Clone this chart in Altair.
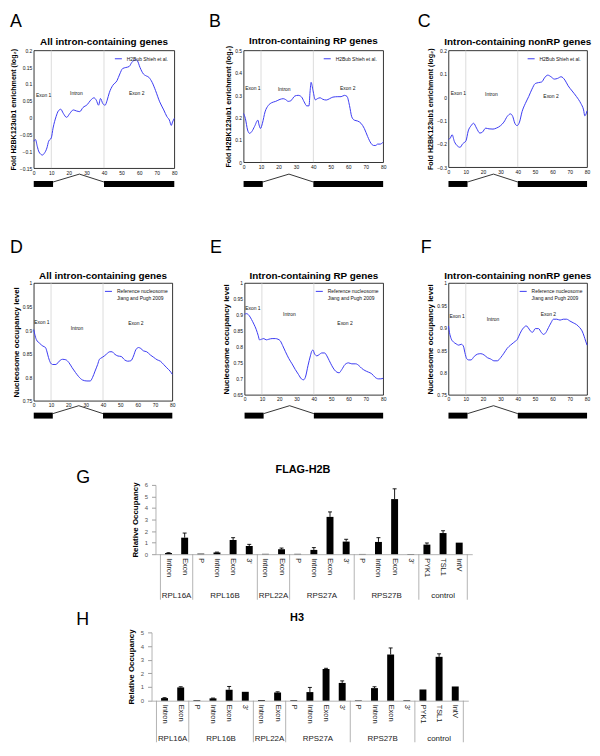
import altair as alt
import pandas as pd

FONT = "Liberation Sans"
BLUE = "#3b3bf2"

# ---------------- line panels (A-F) ----------------
X_TICKS = [0, 10, 20, 30, 40, 50, 60, 70, 80]
REGION_BOUNDS = [10, 40]
EXON_START = [0, 40]
EXON_END = [11, 80]
INTRON_FROM = 11
INTRON_PEAK = 26
INTRON_TO = 40
ANN_TEXT = ["Exon 1", "Intron", "Exon 2"]

SERIES_TOP = "H2Bub  Shieh et al."
SERIES_BOTTOM = "Reference nucleosome|Jiang and Pugh 2009"
YTITLE_TOP = "Fold H2BK123ub1 enrichment (log\u2082)"
YTITLE_BOTTOM = "Nucleosome occupancy level"

A_X = [0, 1, 2, 3, 5, 6, 7.5, 8.5, 10, 11, 12.7, 14, 15.4, 16.8, 18.7, 20.6, 22.5, 24.3, 26.2, 28,
       30.5, 32.4, 34.3, 35.6, 36.9, 38, 39.3, 40.6, 41.8, 43, 45, 47.4, 49, 50.6, 52.4, 54.3, 55.8, 58, 59, 60.5,
       62.4, 63.7, 65.5, 67.4, 69.3, 71.7, 74, 75.8, 77.2, 78.3, 79, 80]
A_Y = [-0.07, -0.065, -0.085, -0.102, -0.111, -0.106, -0.09, -0.07, -0.06, -0.031, 0.003, 0.02, 0.025, 0.013, 0.001,
       0.013, 0.023, 0.02, 0.018, 0.03, 0.039, 0.052, 0.059, 0.052, 0.037, 0.057, 0.042, 0.037, 0.052, 0.074,
       0.096, 0.11, 0.13, 0.146, 0.149, 0.152, 0.164, 0.172, 0.169, 0.149, 0.13, 0.125, 0.12, 0.105, 0.081,
       0.047, 0.023, 0.003, -0.007, -0.023, -0.013, -0.002]

B_X = [0, 1, 2.3, 3.4, 4.7, 6.3, 8.2, 8.9, 9.7, 10.8, 12.3, 14.2, 16.1, 18.4, 20.9, 22.7, 24.1, 25.6, 27.1, 29.4,
       31.3, 33.2, 34.7, 36.2, 37.5, 38.1, 38.7, 39.8, 41.1, 42.3, 43.8, 45.5, 47.4, 49.3, 51.2, 54, 55.9, 57.8,
       59.3, 60.7, 62, 63.5, 65.4, 67.3, 69.2, 71.1, 73, 74.5, 75.8, 76.8, 78.3, 80]
B_Y = [0.218, 0.196, 0.144, 0.129, 0.137, 0.16, 0.188, 0.166, 0.151, 0.174, 0.225, 0.254, 0.266, 0.272, 0.281,
       0.284, 0.28, 0.272, 0.275, 0.296, 0.299, 0.292, 0.27, 0.252, 0.252, 0.314, 0.357, 0.32, 0.279, 0.284,
       0.288, 0.281, 0.278, 0.284, 0.291, 0.293, 0.293, 0.299, 0.294, 0.254, 0.203, 0.188, 0.184, 0.174, 0.151,
       0.115, 0.085, 0.075, 0.075, 0.081, 0.081, 0.09]

C_X = [0, 1.1, 2.1, 3.4, 5, 6.7, 8.2, 10.1, 11.4, 13, 14.5, 16.2, 18.1, 19.6, 21.5, 23.4, 25.7, 27.6, 30.1, 32,
       33.9, 35.8, 37.1, 38.3, 39.6, 41, 42.5, 44.4, 46.3, 48.2, 50.1, 52, 53.9, 55.4, 57.3, 59.2, 61.1, 63, 65,
       67.2, 69.1, 71.4, 73.9, 76.4, 78, 78.7, 79.2, 80]
C_Y = [-0.182, -0.175, -0.161, -0.19, -0.208, -0.215, -0.2, -0.187, -0.145, -0.123, -0.112, -0.133, -0.154, -0.15,
       -0.133, -0.136, -0.137, -0.133, -0.122, -0.107, -0.083, -0.072, -0.083, -0.112, -0.122, -0.107, -0.062,
       -0.027, 0.002, 0.034, 0.058, 0.062, 0.065, 0.082, 0.094, 0.087, 0.077, 0.08, 0.087, 0.073, 0.048, 0.026,
       0.002, -0.027, -0.055, -0.08, -0.076, -0.059]

D_X = [0, 0.6, 1.5, 3.4, 5.3, 6.8, 7.5, 8.5, 9.6, 10.9, 12.8, 14.7, 16.6, 18.5, 20.3, 22.2, 24.1, 26, 28.2, 30.7,
       32.6, 33.9, 35.4, 36.9, 37.9, 38.6, 39.5, 40.7, 42, 43.9, 45.2, 46.7, 48.6, 50.5, 52.4, 54.2, 56.1, 57.6,
       58.9, 60.5, 61.8, 63.3, 65.2, 67.4, 69.3, 71.2, 73.1, 75, 76.8, 78.7, 80]
D_Y = [0.901, 0.891, 0.88, 0.872, 0.866, 0.863, 0.856, 0.842, 0.831, 0.827, 0.827, 0.834, 0.838, 0.837, 0.831,
       0.82, 0.81, 0.801, 0.794, 0.792, 0.792, 0.799, 0.813, 0.827, 0.838, 0.84, 0.842, 0.845, 0.849, 0.854,
       0.854, 0.849, 0.845, 0.844, 0.837, 0.834, 0.835, 0.845, 0.858, 0.863, 0.861, 0.856, 0.854, 0.847, 0.842,
       0.837, 0.834, 0.827, 0.82, 0.813, 0.806]

E_X = [0, 1.1, 2.5, 4, 5.4, 6.7, 7.9, 8.6, 9.8, 11.1, 12.5, 14, 15.9, 17.8, 19.3, 20.6, 22, 23.6, 25.5, 27.4,
       29.3, 31.2, 32.8, 34.1, 35.1, 36.6, 38, 38.9, 39.5, 40.4, 41.8, 43.1, 44.6, 46.2, 47.5, 48.9, 50.4, 51.9,
       53.3, 54.6, 56.1, 58, 60, 61.9, 64.2, 66.1, 67.6, 69.5, 71.5, 73.4, 75.3, 77.2, 78.7, 80]
E_Y = [0.902, 0.904, 0.899, 0.886, 0.871, 0.855, 0.835, 0.822, 0.824, 0.826, 0.822, 0.824, 0.826, 0.826, 0.824,
       0.819, 0.804, 0.785, 0.764, 0.747, 0.729, 0.713, 0.7, 0.697, 0.705, 0.741, 0.772, 0.788, 0.79, 0.778,
       0.772, 0.776, 0.781, 0.781, 0.772, 0.757, 0.741, 0.728, 0.721, 0.719, 0.729, 0.745, 0.75, 0.747, 0.747,
       0.741, 0.733, 0.726, 0.721, 0.716, 0.705, 0.7, 0.7, 0.702]

F_X = [0, 0.6, 1.5, 2.9, 4.4, 5.9, 7.4, 8.6, 9.5, 10.5, 11.6, 13, 14.9, 16.8, 18.7, 20.6, 22.5, 24.4, 26.3, 28.2,
       30.1, 32, 33.9, 35.8, 37.7, 38.7, 39.6, 40.6, 42.1, 43.4, 44.8, 45.9, 47.2, 48.6, 50.1, 52, 53.5, 54.9,
       56.2, 57.7, 59.2, 60.6, 62.5, 64.4, 66.3, 68.2, 70.1, 72, 73.9, 75.8, 77.1, 78.3, 79.2, 80]
F_Y = [0.904, 0.889, 0.876, 0.868, 0.864, 0.861, 0.863, 0.859, 0.844, 0.831, 0.828, 0.828, 0.836, 0.841, 0.842,
       0.839, 0.833, 0.83, 0.826, 0.826, 0.833, 0.843, 0.854, 0.861, 0.867, 0.87, 0.873, 0.881, 0.893, 0.9,
       0.904, 0.901, 0.893, 0.89, 0.898, 0.898, 0.89, 0.885, 0.889, 0.9, 0.911, 0.919, 0.919, 0.917, 0.919,
       0.919, 0.915, 0.911, 0.907, 0.9, 0.893, 0.881, 0.87, 0.861]

A_TICKS = [-0.15, -0.1, -0.05, 0, 0.05, 0.1, 0.15, 0.2]
B_TICKS = [0, 0.1, 0.2, 0.3, 0.4, 0.5]
C_TICKS = [-0.3, -0.2, -0.1, 0, 0.1, 0.2]
D_TICKS = [0.75, 0.8, 0.85, 0.9, 0.95, 1]
E_TICKS = [0.65, 0.7, 0.75, 0.8, 0.85, 0.9, 0.95, 1]
F_TICKS = [0.75, 0.8, 0.85, 0.9, 0.95, 1]

A_ANN_X, A_ANN_Y = [5.6, 24.3, 58.6], [0.068, 0.074, 0.074]
B_ANN_X, B_ANN_Y = [5.3, 23.3, 59.7], [0.331, 0.328, 0.332]
C_ANN_X, C_ANN_Y = [5.7, 24.8, 59.2], [0.019, 0.014, 0.004]
D_ANN_X, D_ANN_Y = [4.7, 25.0, 59.0], [0.918, 0.904, 0.914]
E_ANN_X, E_ANN_Y = [4.8, 25.9, 58.0], [0.922, 0.902, 0.876]
F_ANN_X, F_ANN_Y = [5.0, 25.7, 57.7], [0.927, 0.919, 0.930]

# ---------------- bar panels (G, H) ----------------
CATS = ["Intron", "Exon", "P", "Intron", "Exon", "3'", "Intron", "Exon", "P", "Intron", "Exon", "3'",
        "P", "Intron", "Exon", "3'", "PYK1", "TSL1", "IntV"]
GROUPS = ["RPL16A", "RPL16B", "RPL22A", "RPS27A", "RPS27B", "control"]
GROUP_SIZES = [2, 4, 2, 4, 4, 3]

G_VALS = [0.1, 1.43, 0.05, 0.15, 1.23, 0.71, 0.03, 0.43, 0.03, 0.37, 3.23, 1.09, 0.02, 1.06, 4.77, 0.02, 0.83, 1.83, 1.0]
G_ERRS = [0.03, 0.4, 0, 0.03, 0.2, 0.14, 0, 0.1, 0, 0.2, 0.43, 0.2, 0, 0.37, 0.89, 0, 0.14, 0.2, 0]
H_VALS = [0.19, 0.97, 0.04, 0.17, 0.8, 0.65, 0.05, 0.6, 0.04, 0.63, 2.32, 1.3, 0.03, 0.92, 3.38, 0.03, 0.82, 3.21, 1.04]
H_ERRS = [0.03, 0.05, 0, 0.02, 0.24, 0, 0, 0.05, 0, 0.34, 0.05, 0.15, 0, 0.1, 0.48, 0, 0, 0.22, 0]


def text_layer(txt, dx, dy, size, weight="normal", align="left", baseline="top"):
    return alt.Chart(pd.DataFrame({"t": [txt]})).mark_text(
        fontSize=size, fontWeight=weight, align=align, baseline=baseline, color="black").encode(
        text="t:N", x=alt.value(dx), y=alt.value(dy))


def line_panel(letter, title, xs, ys, series, ydom, yticks, ytitle, ytsize,
               ann_x, ann_y, w, h, ldx, ldy, tdy, gdy):
    xsc = alt.Scale(domain=[0, 80], nice=False, zero=False)
    ysc = alt.Scale(domain=ydom, nice=False, zero=False)
    xaxis = alt.Axis(values=X_TICKS, labelFontSize=5, labelPadding=2, ticks=False, domain=False,
                     grid=False, title=None, labelFlush=False, labelOverlap=False, labelColor="#111")
    yaxis = alt.Axis(values=yticks, format="~g", labelFontSize=5, labelPadding=2, ticks=False,
                     domain=False, grid=False, title=ytitle, titleFontSize=ytsize,
                     titleFontWeight="bold", titlePadding=2, labelFlush=False, labelOverlap=False,
                     labelColor="#111", titleColor="#000")

    def X(f):
        return alt.X(f, scale=xsc, axis=xaxis)

    def Y(f):
        return alt.Y(f, scale=ysc, axis=yaxis)

    df = pd.DataFrame({"x": xs, "y": ys, "series": series})
    line = alt.Chart(df).mark_line(strokeWidth=1, interpolate="monotone").encode(
        x=X("x:Q"), y=Y("y:Q"),
        color=alt.Color("series:N", scale=alt.Scale(range=[BLUE]),
                        legend=alt.Legend(orient="top-right", title=None, labelFontSize=5,
                                          symbolType="stroke", symbolSize=50, symbolStrokeWidth=1,
                                          offset=4, padding=0, labelLimit=300,
                                          labelExpr="split(datum.label, '|')", labelColor="#111")),
    )
    bnd = alt.Chart(pd.DataFrame({"b": REGION_BOUNDS})).mark_rule(
        color="#cccccc", strokeWidth=0.7).encode(x=X("b:Q"))
    ann = alt.Chart(pd.DataFrame({"x": ann_x, "y": ann_y, "t": ANN_TEXT})).mark_text(
        fontSize=5, color="#111").encode(x=X("x:Q"), y=Y("y:Q"), text="t:N")
    exons = alt.Chart(pd.DataFrame({"s": EXON_START, "e": EXON_END})).mark_rect(color="black").encode(
        x=X("s:Q"), x2="e:Q", y=alt.value(h + gdy), y2=alt.value(h + gdy + 6))
    in1 = alt.Chart(pd.DataFrame({"a": [INTRON_FROM], "b": [INTRON_PEAK]})).mark_rule(
        color="black", strokeWidth=0.8).encode(
        x=X("a:Q"), x2="b:Q", y=alt.value(h + gdy + 1), y2=alt.value(h + gdy - 7))
    in2 = alt.Chart(pd.DataFrame({"a": [INTRON_PEAK], "b": [INTRON_TO]})).mark_rule(
        color="black", strokeWidth=0.8).encode(
        x=X("a:Q"), x2="b:Q", y=alt.value(h + gdy - 7), y2=alt.value(h + gdy + 1))
    let = text_layer(letter, ldx, ldy, 18)
    ttl = text_layer(title, w / 2, tdy, 10, "bold", "center", "alphabetic")
    return alt.layer(bnd, line, ann, exons, in1, in2, let, ttl).properties(width=w, height=h)


def bar_panel(letter, title, vals, errs, ymax, w, h, ldx, ldy, tdx, sep_len, glab_dy):
    n = len(CATS)
    pos = [i + 0.5 for i in range(n)]
    df = pd.DataFrame({"pos": pos, "val": vals, "err": errs, "cat": CATS})
    df["top"] = df["val"] + df["err"]
    xsc = alt.Scale(domain=[0, n], nice=False, zero=False)
    ysc = alt.Scale(domain=[0, ymax], nice=False)
    xaxis = alt.Axis(labels=False, ticks=False, grid=False, domainColor="#a0a0a0",
                     domainWidth=0.8, title=None)
    yaxis = alt.Axis(values=list(range(ymax + 1)), labelFontSize=6, labelColor="#555",
                     labelPadding=4, tickColor="#a0a0a0", tickSize=4, domainColor="#a0a0a0",
                     domainWidth=0.8, grid=False, title="Relative Occupancy", titleFontSize=8,
                     titleFontWeight="bold", titleColor="black", titlePadding=5,
                     labelOverlap=False, labelFlush=False)

    def X(f):
        return alt.X(f, scale=xsc, axis=xaxis)

    def Y(f):
        return alt.Y(f, scale=ysc, axis=yaxis)

    bars = alt.Chart(df).mark_bar(size=7, color="black", orient="vertical").encode(
        x=X("pos:Q"), y=Y("val:Q"))
    catlab = alt.Chart(df).mark_text(angle=90, align="left", baseline="middle", fontSize=7.5,
                                     color="#222").encode(
        x=X("pos:Q"), y=alt.value(h + 4), text="cat:N")
    edf = df[df["err"] > 0]
    ebar = alt.Chart(edf).mark_rule(color="black", strokeWidth=0.9).encode(
        x=X("pos:Q"), y=Y("val:Q"), y2="top:Q")
    caps = alt.Chart(edf).mark_rule(color="black", strokeWidth=0.9, xOffset=-2, x2Offset=2).encode(
        x=X("pos:Q"), x2="pos:Q", y=Y("top:Q"))
    cum = [0]
    for s in GROUP_SIZES:
        cum.append(cum[-1] + s)
    centers = [(cum[i] + cum[i + 1]) / 2 for i in range(len(GROUPS))]
    seps = alt.Chart(pd.DataFrame({"b": cum})).mark_rule(color="#a0a0a0", strokeWidth=0.8).encode(
        x=X("b:Q"), y=alt.value(h), y2=alt.value(h + sep_len))
    glab = alt.Chart(pd.DataFrame({"c": centers, "g": GROUPS})).mark_text(
        fontSize=8, color="#222", baseline="middle").encode(
        x=X("c:Q"), y=alt.value(h + glab_dy), text="g:N")
    ttl = text_layer(title, tdx, -21, 11, "bold", "center", "top")
    let = text_layer(letter, ldx, ldy, 18)
    return alt.layer(bars, catlab, ebar, caps, seps, glab, ttl, let).properties(
        width=w, height=h, view=alt.ViewBackground(stroke="transparent"))


def spacer(w):
    return alt.Chart(pd.DataFrame({"t": [0]})).mark_rule(strokeOpacity=0).encode(
        x=alt.value(0), x2=alt.value(1), y=alt.value(0)).properties(
        width=w, height=1, view=alt.ViewBackground(stroke="transparent"))


pA = line_panel("A", "All intron-containing genes", A_X, A_Y, SERIES_TOP, [-0.15, 0.2], A_TICKS,
                YTITLE_TOP, 7.2, A_ANN_X, A_ANN_Y, 142, 119, -24, -38, -5, 13)
pB = line_panel("B", "Intron-containing RP genes", B_X, B_Y, SERIES_TOP, [0, 0.5], B_TICKS,
                YTITLE_TOP, 7.2, B_ANN_X, B_ANN_Y, 141, 113, -35, -38, -6, 19)
pC = line_panel("C", "Intron-containing nonRP genes", C_X, C_Y, SERIES_TOP, [-0.3, 0.2], C_TICKS,
                YTITLE_TOP, 7.2, C_ANN_X, C_ANN_Y, 140, 118, -31, -38, -5, 14)
pD = line_panel("D", "All intron-containing genes", D_X, D_Y, SERIES_BOTTOM, [0.75, 1], D_TICKS,
                YTITLE_BOTTOM, 8, D_ANN_X, D_ANN_Y, 140, 119, -24, -44, -4, 12)
pE = line_panel("E", "Intron-containing RP genes", E_X, E_Y, SERIES_BOTTOM, [0.65, 1], E_TICKS,
                YTITLE_BOTTOM, 8, E_ANN_X, E_ANN_Y, 140, 113, -35, -44, -4, 18)
pF = line_panel("F", "Intron-containing nonRP genes", F_X, F_Y, SERIES_BOTTOM, [0.75, 1], F_TICKS,
                YTITLE_BOTTOM, 8, F_ANN_X, F_ANN_Y, 140, 113, -28, -44, -4, 18)

pG = bar_panel("G", "FLAG-H2B", G_VALS, G_ERRS, 6, 320, 70, -80, -16, 149, 46, 42)
pH = bar_panel("H", "H3", H_VALS, H_ERRS, 5, 320, 69, -76, -21, 147, 42, 39)

RES = dict(x="independent", y="independent", color="independent")

row1 = alt.hconcat(pA, pB, pC, spacing=30).resolve_scale(**RES).resolve_legend(color="independent")
row2 = alt.hconcat(pD, pE, pF, spacing=33).resolve_scale(**RES).resolve_legend(color="independent")
top = alt.vconcat(row1, row2, spacing=51).resolve_scale(**RES).resolve_legend(color="independent")
rowG = alt.hconcat(spacer(41), pG, spacing=0).resolve_scale(x="independent", y="independent")
rowH = alt.hconcat(spacer(41), pH, spacing=0).resolve_scale(x="independent", y="independent")
bottom = alt.vconcat(rowG, rowH, spacing=10).resolve_scale(x="independent", y="independent")

chart = alt.vconcat(top, bottom, spacing=44, padding=0).resolve_scale(**RES).resolve_legend(
    color="independent").configure(font=FONT).configure_view(stroke="black", strokeWidth=0.8)

chart.save("out.html", embed_options={"renderer": "svg", "actions": False})
